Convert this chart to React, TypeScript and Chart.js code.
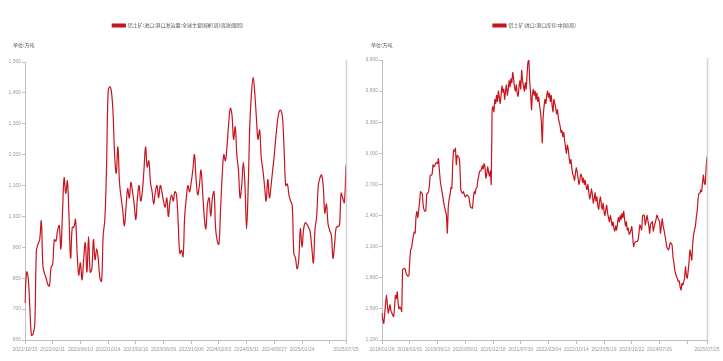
import React, { useEffect, useRef } from "react";
import { Chart, registerables } from "chart.js";

Chart.register(...registerables);

// ---------- text ----------
const leftLegend = "铝土矿:进口:港口发运量:全球主要国家(周)(船舶跟踪)";
const rightLegend = "铝土矿:进口:港口库存:中国(周)";
const unitText = "单位:万吨";

// ---------- left chart ----------
const leftTickText = [
  "2021/10/15", "2022/02/11", "2022/06/10", "2022/10/14", "2023/02/10", "2023/06/09",
  "2023/10/06", "2024/02/02", "2024/05/31", "2024/09/27", "2025/01/24", "", "2025/07/25",
];
const leftTickStep = 17;
const leftValues = [
  720, 820, 800, 700, 615, 620, 650, 890, 910, 925,
  985, 840, 815, 800, 780, 775, 835, 845, 925, 920,
  955, 970, 895, 1010, 1125, 1075, 1115, 1000, 865, 965,
  965, 990, 880, 810, 850, 795, 860, 915, 820, 935,
  820, 830, 925, 860, 895, 860, 800, 790, 940, 990,
  1150, 1400, 1420, 1405, 1340, 1200, 1140, 1225, 1110, 1060,
  1020, 970, 1030, 1090, 1060, 1110, 1080, 1040, 990, 1060,
  1100, 1050, 1080, 1150, 1225, 1160, 1180, 1110, 1080, 1040,
  1080, 1100, 1060, 1100, 1080, 1050, 1030, 1060, 1000, 1050,
  1070, 1050, 1080, 1070, 980, 880, 890, 870, 1000, 1060,
  1100, 1080, 1110, 1150, 1200, 1120, 1070, 1100, 1150, 1080,
  1000, 960, 1040, 1060, 1000, 1060, 1080, 960, 920, 910,
  1020, 1130, 1200, 1180, 1230, 1300, 1350, 1330, 1250, 1290,
  1200, 1150, 1060, 1100, 1175, 1100, 960, 1100, 1300, 1400,
  1450, 1400, 1320, 1250, 1280, 1190, 1150, 1100, 1050, 1120,
  1060, 1100, 1150, 1200, 1260, 1310, 1340, 1344, 1322, 1220,
  1100, 1105, 1070, 1050, 1035, 880, 865, 830, 860, 960,
  900, 960, 980, 975, 965, 950, 900, 850, 960, 1000,
  1100, 1125, 1134, 1100, 1011, 1040, 975, 955, 940, 865,
  910, 965, 967, 972, 1075, 1059, 1045, 1166,
];

// ---------- right chart ----------
const rightTickText = [
  "2018/01/26", "2019/02/01", "2019/09/13", "2020/05/01", "2020/12/18", "2021/07/30",
  "2022/03/04", "2022/10/14", "2023/05/19", "2023/12/22", "2024/07/26", "", "2025/07/25",
];
const rightTickStep = 31;
const rightValues = [
  1460, 1390, 1360, 1450, 1550, 1630, 1540, 1460, 1500, 1540,
  1480, 1460, 1440, 1425, 1520, 1630, 1600, 1665, 1560, 1500,
  1520, 1505, 1475,
  1880, 1885, 1890, 1880, 1840, 1825, 1815, 1820, 1960, 2070,
  2090, 2150, 2200, 2240, 2230, 2390, 2440, 2380, 2450, 2535,
  2630, 2620, 2610, 2500, 2455, 2440, 2450, 2610, 2615, 2630,
  2700, 2790, 2790, 2800, 2890, 2870, 2880, 2905, 2910, 2900,
  2950, 2850, 2740, 2680, 2630, 2580, 2520, 2480, 2440, 2400,
  2230, 2480, 2560, 2600, 2670, 2660, 2900, 3030, 3020, 3050,
  2890, 2980, 2970, 2960, 2880, 2650, 2625, 2615, 2630, 2600,
  2580, 2590, 2600, 2590, 2580, 2520, 2480, 2475, 2470, 2560,
  2630, 2610, 2660, 2670, 2740, 2780, 2825, 2830, 2840,
  2880, 2850, 2900, 2870, 2760, 2800, 2870, 2820, 2780, 2830,
  2700, 3420, 3450, 3400, 3520, 3480, 3560, 3500, 3600, 3540,
  3480, 3560, 3650, 3590, 3620, 3520, 3600, 3660, 3560, 3620,
  3700, 3640, 3720, 3680, 3780, 3720, 3640, 3600, 3660, 3580,
  3550, 3640, 3700, 3620, 3800, 3700, 3650, 3600, 3680, 3620,
  3750, 3880, 3900, 3700, 3580, 3420, 3560, 3620, 3560, 3600,
  3520, 3580, 3500, 3540, 3460, 3400, 3300, 3100, 3350, 3450,
  3520, 3480, 3560, 3600, 3540, 3580, 3500, 3560, 3460, 3400,
  3520, 3480, 3440, 3380, 3420, 3340, 3300, 3260, 3200, 3220,
  3160, 3200, 3120, 3060, 3000, 3080, 3040, 2960, 2900, 2940,
  2860, 2800, 2780, 2740, 2800, 2860, 2820, 2760, 2700, 2740,
  2800, 2780, 2720, 2760, 2700, 2740, 2680, 2650, 2700, 2620,
  2560, 2600, 2660, 2600, 2520, 2560, 2620, 2540, 2580, 2500,
  2460, 2540, 2580, 2500, 2460, 2520, 2440, 2400, 2460, 2500,
  2420, 2380, 2340, 2400, 2360, 2300, 2340, 2280, 2250, 2300,
  2260, 2320, 2380, 2340, 2400, 2360, 2420, 2380, 2440, 2360,
  2300, 2340, 2260, 2280, 2220, 2230,
  2260, 2293, 2200, 2100, 2130, 2148, 2150, 2150, 2164, 2230,
  2309, 2290, 2261, 2390, 2405, 2400, 2309, 2350, 2405, 2350,
  2300, 2229, 2320, 2330, 2341, 2250, 2290, 2325, 2360, 2405,
  2380, 2357, 2345, 2229, 2300, 2373, 2300, 2260, 2212, 2160,
  2100, 2080, 2068, 2100, 2140, 2130, 2116, 2000, 1950, 1870,
  1840, 1810, 1790, 1762, 1770, 1710, 1682, 1746, 1730, 1760,
  1800, 1907, 1820, 1795, 1870, 1960, 2068, 2020, 1971, 2120,
  2212, 2260, 2293, 2380, 2440, 2560, 2614, 2614, 2646, 2630,
  2720, 2791, 2711, 2700, 2855, 2968,
];

const RED = "#c8141e";
const TICK_FONT = "'Liberation Sans Narrow','Liberation Sans',Arial,sans-serif";
const CJK_FONT = "'Noto Sans CJK SC',sans-serif";

function tickIndices(n: number, step: number, count: number): number[] {
  const out: number[] = [];
  for (let k = 0; k < count - 1; k++) out.push(k * step);
  out.push(n - 1);
  return out;
}

const decorPlugin = {
  id: "decor",
  afterInit(chart: any, _a: any, opts: any) {
    const lg = chart.legend;
    if (lg) {
      const f = lg.fit;
      lg.fit = function () {
        f.call(this);
        this.height = opts.legendH;
      };
      const d = lg.draw;
      lg.draw = function () {
        const dx = opts.legendDx || 0;
        this.left += dx;
        this.right += dx;
        d.call(this);
        this.left -= dx;
        this.right -= dx;
      };
    }
  },
  afterDraw(chart: any, _a: any, opts: any) {
    const { ctx, chartArea } = chart;
    ctx.save();
    ctx.strokeStyle = "#d4d4d4";
    ctx.lineWidth = 1.5;
    ctx.beginPath();
    ctx.moveTo(chartArea.right + 0.5, chartArea.top - 2);
    ctx.lineTo(chartArea.right + 0.5, chartArea.bottom);
    ctx.stroke();
    ctx.fillStyle = "#555";
    ctx.font = `5px ${CJK_FONT}`;
    ctx.textBaseline = "middle";
    ctx.textAlign = "left";
    ctx.fillText(opts.unit, opts.unitX, opts.unitY);
    ctx.restore();
  },
};

type Props = {
  width: number;
  values: number[];
  tickText: string[];
  tickStep: number;
  yMin: number;
  yMax: number;
  yStep: number;
  legend: string;
  tension: number;
  axisW: number;
  legendH: number;
  legendDx: number;
  unitX: number;
};

function LineChart(p: Props) {
  const ref = useRef<HTMLCanvasElement>(null);
  useEffect(() => {
    if (!ref.current) return;
    const idx = tickIndices(p.values.length, p.tickStep, p.tickText.length);
    const labels = p.values.map((_, i) => {
      const k = idx.indexOf(i);
      return k >= 0 ? p.tickText[k] : "";
    });
    const chart = new Chart(ref.current, {
      type: "line",
      data: {
        labels,
        datasets: [
          {
            label: p.legend,
            data: p.values,
            borderColor: RED,
            backgroundColor: RED,
            borderWidth: 1.2,
            pointRadius: 0,
            tension: p.tension,
          },
        ],
      },
      options: {
        responsive: false,
        animation: false,
        layout: { padding: { top: 12, left: 0, right: 16, bottom: 0 } },
        plugins: {
          legend: {
            display: true,
            position: "top",
            labels: {
              boxWidth: 13,
              boxHeight: 3,
              padding: 11,
              color: "#555",
              font: { size: 5, family: CJK_FONT },
            },
          },
          tooltip: { enabled: false },
          decor: {
            legendH: p.legendH,
            legendDx: p.legendDx,
            unit: unitText,
            unitX: p.unitX,
            unitY: 45,
          },
        } as any,
        scales: {
          x: {
            type: "category",
            offset: false,
            afterBuildTicks: (scale: any) => {
              scale.ticks = idx.map((v) => ({ value: v }));
            },
            afterFit: (scale: any) => {
              scale.height = 21;
            },
            ticks: {
              autoSkip: false,
              maxRotation: 0,
              minRotation: 0,
              padding: 3,
              color: "#999",
              font: { size: 5, family: TICK_FONT },
            },
            grid: { display: true, drawOnChartArea: false, drawTicks: true, tickLength: 4, color: "#bfbfbf" },
            border: { display: true, color: "#bfbfbf" },
          },
          y: {
            min: p.yMin,
            max: p.yMax,
            afterFit: (scale: any) => {
              scale.width = p.axisW;
            },
            ticks: {
              stepSize: p.yStep,
              padding: 1,
              color: "#999",
              font: { size: 5, family: TICK_FONT },
            },
            grid: { display: true, drawOnChartArea: false, drawTicks: true, tickLength: 3, color: "#bfbfbf" },
            border: { display: true, color: "#bfbfbf" },
          },
        },
      },
      plugins: [decorPlugin as any],
    });
    return () => chart.destroy();
  }, []);
  return <canvas ref={ref} width={p.width} height={361} style={{ display: "block" }} />;
}

export default function App() {
  return (
    <div
      style={{
        position: "fixed",
        left: 0,
        top: 0,
        width: 723,
        height: 361,
        background: "#fff",
        display: "flex",
      }}
    >
      <LineChart
        width={362}
        values={leftValues}
        tickText={leftTickText}
        tickStep={leftTickStep}
        yMin={600}
        yMax={1500}
        yStep={100}
        legend={leftLegend}
        tension={0.4}
        axisW={25}
        legendH={50}
        legendDx={5}
        unitX={13}
      />
      <LineChart
        width={361}
        values={rightValues}
        tickText={rightTickText}
        tickStep={rightTickStep}
        yMin={1200}
        yMax={3900}
        yStep={300}
        legend={rightLegend}
        tension={0.15}
        axisW={20}
        legendH={48}
        legendDx={0}
        unitX={9}
      />
    </div>
  );
}
